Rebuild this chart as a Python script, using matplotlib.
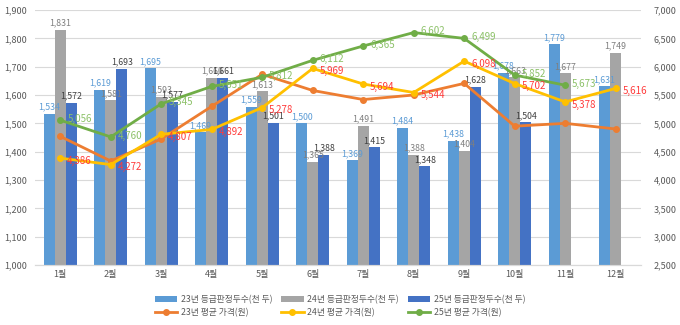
import numpy as np
import matplotlib.pyplot as plt

plt.rcParams['font.family'] = ['Noto Sans CJK KR', 'DejaVu Sans']

months = ['1월', '2월', '3월', '4월', '5월', '6월', '7월', '8월', '9월', '10월', '11월', '12월']
# 등급판정두수 (천 두)
cnt23 = [1534, 1619, 1695, 1469, 1559, 1500, 1369, 1484, 1438, 1678, 1779, 1631]
cnt24 = [1831, 1581, 1593, 1660, 1613, 1365, 1491, 1388, 1404, 1663, 1677, 1749]
cnt25 = [1572, 1693, 1577, 1661, 1501, 1388, 1415, 1348, 1628, 1504, None, None]
# 평균 가격 (원)
price23 = [4770, 4335, 4725, 5300, 5865, 5580, 5420, 5500, 5705, 4950, 5000, 4900]
price24 = [4386, 4272, 4807, 4892, 5278, 5969, 5694, 5544, 6098, 5702, 5378, 5616]
price25 = [5056, 4760, 5345, 5651, 5812, 6112, 6365, 6602, 6499, 5852, 5673, None]

c_b23, c_b24, c_b25 = '#5B9BD5', '#A5A5A5', '#4472C4'
c_l23, c_l24, c_l25 = '#ED7D31', '#FFC000', '#70AD47'

fig = plt.figure(figsize=(6.8, 3.25), dpi=100)
ax = fig.add_axes([0.0515, 0.1846, 0.891, 0.7846])
ax2 = ax.twinx()

x = np.arange(len(months))
w = 0.22

bars = []
for off, vals, col, lc, name in [(-w, cnt23, c_b23, '#5B9BD5', '23년 등급판정두수(천 두)'),
                                 (0, cnt24, c_b24, '#7F7F7F', '24년 등급판정두수(천 두)'),
                                 (w, cnt25, c_b25, '#404040', '25년 등급판정두수(천 두)')]:
    xs = [xi + off for xi, v in zip(x, vals) if v is not None]
    vs = [v for v in vals if v is not None]
    b = ax.bar(xs, vs, width=w, color=col, label=name, zorder=2)
    bars.append(b)
    for xi, v in zip(xs, vs):
        ax.text(xi, v + 8, f'{v:,}', ha='center', va='bottom', fontsize=6.3, color=lc, zorder=3)

ax.set_ylim(1000, 1900)
ax.set_yticks(np.arange(1000, 1901, 100))
ax.set_yticklabels([f'{v:,}' for v in range(1000, 1901, 100)])
ax.set_xlim(-0.5, 11.5)
ax.set_xticks(x)
ax.set_xticklabels(months)
ax.grid(axis='y', color='#D9D9D9', linewidth=0.8, zorder=0)
ax.set_axisbelow(True)

lines = []
for vals, col, name in [(price23, c_l23, '23년 평균 가격(원)'),
                        (price24, c_l24, '24년 평균 가격(원)'),
                        (price25, c_l25, '25년 평균 가격(원)')]:
    xs = [xi for xi, v in zip(x, vals) if v is not None]
    vs = [v for v in vals if v is not None]
    l, = ax2.plot(xs, vs, color=col, linewidth=2, marker='o', markersize=4, label=name)
    lines.append(l)

for xi, v in zip(x, price24):
    ax2.annotate(f'{v:,}', (xi, v), xytext=(5, -2), textcoords='offset points',
                 ha='left', va='center', fontsize=7, color='#FF3B3B')
for xi, v in zip(x, price25):
    if v is None:
        continue
    ax2.annotate(f'{v:,}', (xi, v), xytext=(5, 1), textcoords='offset points',
                 ha='left', va='center', fontsize=7, color='#8CC168')

ax2.set_ylim(2500, 7000)
ax2.set_yticks(np.arange(2500, 7001, 500))
ax2.set_yticklabels([f'{v:,}' for v in range(2500, 7001, 500)])

for a in (ax, ax2):
    for s in ['top', 'left', 'right']:
        a.spines[s].set_visible(False)
    a.spines['bottom'].set_color('#D9D9D9')
    a.tick_params(length=0, labelsize=6.5, colors='#595959')
ax.tick_params(axis='y', pad=6)
ax2.tick_params(axis='y', pad=9)

handles = [bars[0], lines[0], bars[1], lines[1], bars[2], lines[2]]
fig.legend(handles, [h.get_label() for h in handles], ncol=3, loc='lower center',
           bbox_to_anchor=(0.5, 0.0), frameon=False, fontsize=6.3,
           labelcolor='#595959', handlelength=2.6, columnspacing=1.0, handletextpad=0.4,
           labelspacing=0.45)

fig.savefig('out.png', dpi=100)
